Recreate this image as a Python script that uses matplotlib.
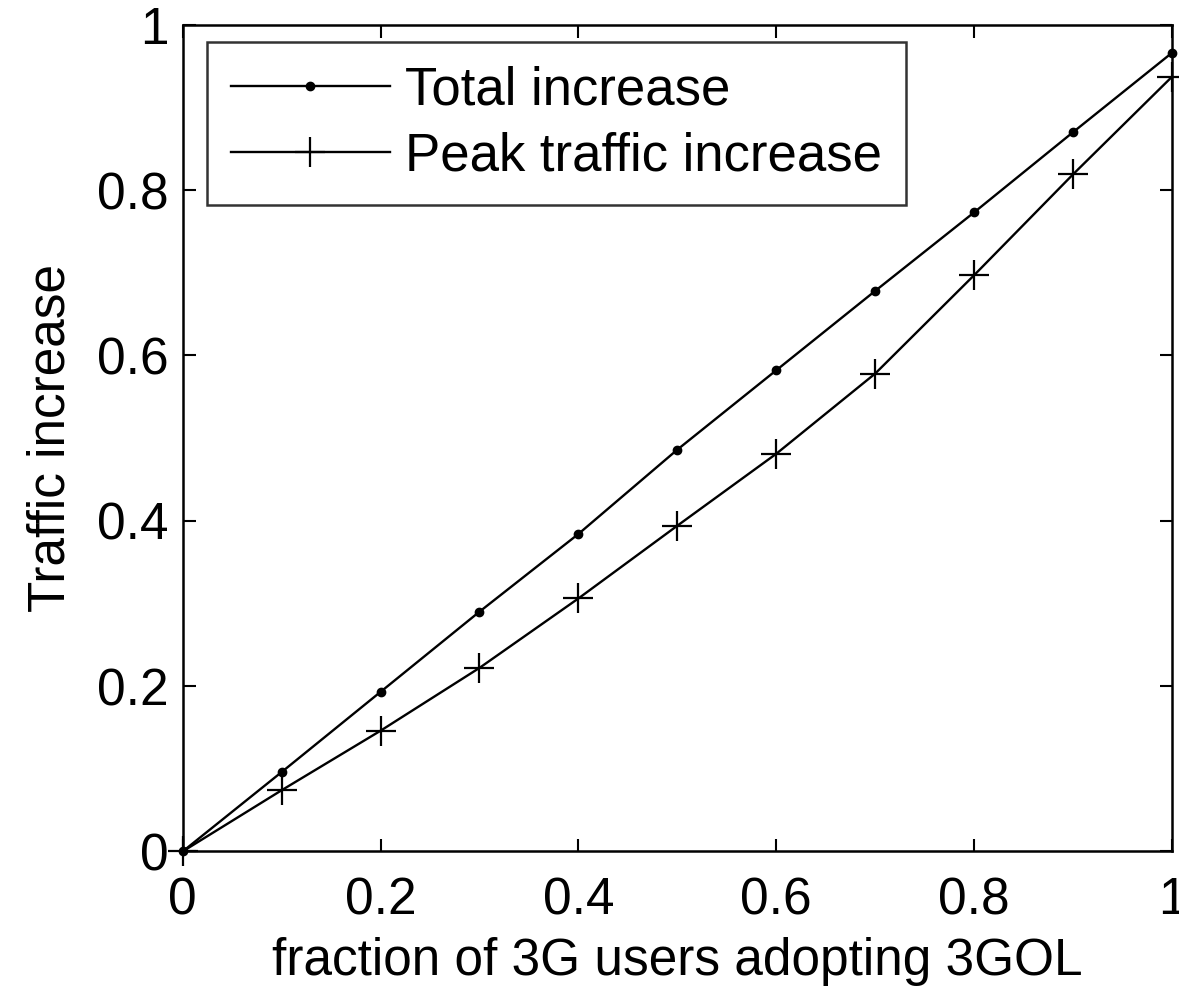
import matplotlib
matplotlib.use("Agg")
import matplotlib.pyplot as plt

# fraction of 3G users adopting 3GOL
fraction = [0.0, 0.1, 0.2, 0.3, 0.4, 0.5, 0.6, 0.7, 0.8, 0.9, 1.0]
# values
total_increase = [0.0, 0.096, 0.193, 0.290, 0.384, 0.486, 0.582, 0.678, 0.773, 0.870, 0.966]
peak_increase = [0.0, 0.074, 0.146, 0.222, 0.306, 0.394, 0.481, 0.578, 0.697, 0.819, 0.937]

xticks = [0, 0.2, 0.4, 0.6, 0.8, 1]
xtick_labels = ["0", "0.2", "0.4", "0.6", "0.8", "1"]
yticks = [0, 0.2, 0.4, 0.6, 0.8, 1]
ytick_labels = ["0", "0.2", "0.4", "0.6", "0.8", "1"]

plt.rcParams["font.family"] = ["Liberation Sans", "DejaVu Sans"]
fs = 37

fig = plt.figure(figsize=(11.79, 9.9), dpi=100)
ax = fig.add_axes([0.155, 0.14, 0.839, 0.835])

ax.plot(fraction, total_increase, color="black", linewidth=1.7, marker=".",
        markersize=12, label="Total increase", clip_on=False, zorder=3)
ax.plot(fraction, peak_increase, color="black", linewidth=1.7, marker="+",
        markersize=22, markeredgewidth=1.6, label="Peak traffic increase",
        clip_on=False, zorder=3)

ax.set_xlim(0, 1)
ax.set_ylim(0, 1)
ax.set_xticks(xticks)
ax.set_xticklabels(xtick_labels)
ax.set_yticks(yticks)
ax.set_yticklabels(ytick_labels)
ax.tick_params(direction="in", length=9, width=1.5, labelsize=fs,
               top=True, right=True)
ax.tick_params(axis="x", pad=18)
ax.tick_params(axis="y", pad=10)
for sp in ax.spines.values():
    sp.set_linewidth(1.8)

ax.set_xlabel("fraction of 3G users adopting 3GOL", fontsize=fs, labelpad=8)
ax.set_ylabel("Traffic increase", fontsize=fs, labelpad=16)

leg = ax.legend(loc="upper left", bbox_to_anchor=(0.025, 0.979), fontsize=38,
                frameon=True, fancybox=False, edgecolor="black",
                handlelength=3.0, handletextpad=0.3, borderaxespad=0.0,
                borderpad=0.45, labelspacing=0.3)
leg.get_frame().set_linewidth(1.8)

fig.savefig("out.png", dpi=100)
